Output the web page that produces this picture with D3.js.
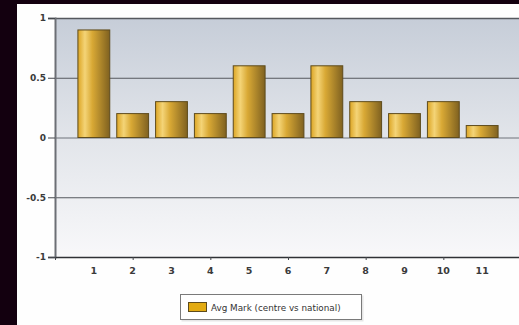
<!DOCTYPE html>
<html lang="en">
<head>
	<meta charset="UTF-8">
	<title>Avg Mark</title>
	<style type="text/css">
		html, body { margin: 0; padding: 0; background: #13000f; }
		svg { display: block; }
		text { font-family: "DejaVu Sans", Verdana, sans-serif; }
	</style>
</head>
<body>
	<script type="text/javascript" src="https://cdn.jsdelivr.net/npm/d3@7/dist/d3.min.js"></script>
	<script type="text/javascript">
		var categories = [1, 2, 3, 4, 5, 6, 7, 8, 9, 10, 11];
		var values = [0.9, 0.2, 0.3, 0.2, 0.6, 0.2, 0.6, 0.3, 0.2, 0.3, 0.1];
		var yTicks = [-1, -0.5, 0, 0.5, 1];
		var yTickLabels = ['-1', '-0.5', '0', '0.5', '1'];
		var seriesName = 'Avg Mark (centre vs national)';

		var w = 519;
		var h = 325;
		var plot = {left: 55, top: 18, right: 521, bottom: 257};

		var svg = d3.select('body')
					.append('svg')
					.attr('width', w)
					.attr('height', h);

		var defs = svg.append('defs');

		var bg = defs.append('linearGradient')
					.attr('id', 'plotBg')
					.attr('x1', 0).attr('y1', 0)
					.attr('x2', 0).attr('y2', 1);
		bg.append('stop').attr('offset', '0%').attr('stop-color', '#c6cdd8');
		bg.append('stop').attr('offset', '50%').attr('stop-color', '#e2e5ea');
		bg.append('stop').attr('offset', '100%').attr('stop-color', '#f8f8fa');

		var barGrad = defs.append('linearGradient')
					.attr('id', 'barFill')
					.attr('x1', 0).attr('y1', 0)
					.attr('x2', 1).attr('y2', 0);
		barGrad.append('stop').attr('offset', '0%').attr('stop-color', '#dca524');
		barGrad.append('stop').attr('offset', '22%').attr('stop-color', '#f4d477');
		barGrad.append('stop').attr('offset', '45%').attr('stop-color', '#d9a935');
		barGrad.append('stop').attr('offset', '100%').attr('stop-color', '#7f6120');

		// white panel behind the chart
		svg.append('rect')
			.attr('x', 17)
			.attr('y', 4)
			.attr('width', w - 17)
			.attr('height', h - 4)
			.attr('fill', '#fefefe');

		var x = d3.scaleLinear()
				  .domain([0, 12])
				  .range([plot.left, plot.right]);

		var y = d3.scaleLinear()
				  .domain([-1, 1])
				  .range([plot.bottom, plot.top]);

		var step = x(1) - x(0);
		var barWidth = step * 0.82;

		svg.append('rect')
			.attr('x', plot.left)
			.attr('y', plot.top)
			.attr('width', plot.right - plot.left)
			.attr('height', plot.bottom - plot.top)
			.attr('fill', 'url(#plotBg)');

		// horizontal grid lines
		svg.append('g')
			.selectAll('line')
			.data(yTicks)
			.enter()
			.append('line')
			.attr('x1', plot.left)
			.attr('x2', plot.right)
			.attr('y1', function (d) { return y(d) + 0.5; })
			.attr('y2', function (d) { return y(d) + 0.5; })
			.attr('stroke', function (d) { return d === 0 ? '#6f737a' : '#55585e'; })
			.attr('stroke-width', function (d) { return d === 1 ? 1.5 : 1; });

		// bars
		svg.append('g')
			.selectAll('rect')
			.data(values)
			.enter()
			.append('rect')
			.attr('x', function (d, i) { return x(categories[i]) - barWidth / 2; })
			.attr('y', function (d) { return y(Math.max(0, d)); })
			.attr('width', barWidth)
			.attr('height', function (d) { return Math.abs(y(d) - y(0)); })
			.attr('fill', 'url(#barFill)')
			.attr('stroke', '#5e4b1c')
			.attr('stroke-width', 1);

		// y axis
		var yAxis = d3.axisLeft(y)
					  .tickValues(yTicks)
					  .tickFormat(function (d, i) { return yTickLabels[i]; })
					  .tickSize(7)
					  .tickPadding(2);
		var gy = svg.append('g')
					.attr('transform', 'translate(' + plot.left + ',0)')
					.call(yAxis);
		gy.select('.domain').attr('stroke', '#6c6f75').attr('stroke-width', 2);
		gy.selectAll('.tick line').attr('stroke', '#44474c');
		gy.selectAll('.tick text')
			.attr('font-size', '9px')
			.attr('font-weight', 'bold')
			.attr('fill', '#3a3a3a');

		// x axis: small ticks on even values, labels on every category
		var xAxis = d3.axisBottom(x)
					  .tickValues([0, 2, 4, 6, 8, 10])
					  .tickFormat('')
					  .tickSize(3)
					  .tickSizeOuter(0);
		var gx = svg.append('g')
					.attr('transform', 'translate(0,' + plot.bottom + ')')
					.call(xAxis);
		gx.select('.domain').attr('stroke', '#2f3135').attr('stroke-width', 1.5);
		gx.selectAll('.tick line').attr('stroke', '#44474c');

		svg.append('g')
			.selectAll('text')
			.data(categories)
			.enter()
			.append('text')
			.attr('x', function (d) { return x(d); })
			.attr('y', plot.bottom + 17)
			.attr('text-anchor', 'middle')
			.attr('font-size', '9.5px')
			.attr('font-weight', 'bold')
			.attr('fill', '#3a3a3a')
			.text(function (d) { return d; });

		// legend
		var legend = svg.append('g').attr('transform', 'translate(180,294)');
		legend.append('rect')
			.attr('x', 1.5).attr('y', 1.5)
			.attr('width', 182).attr('height', 26)
			.attr('fill', '#e6e6e6');
		legend.append('rect')
			.attr('x', 0.5).attr('y', 0.5)
			.attr('width', 181).attr('height', 25)
			.attr('fill', '#ffffff')
			.attr('stroke', '#7a7a7a');
		legend.append('rect')
			.attr('x', 8.5).attr('y', 8.5)
			.attr('width', 18).attr('height', 9)
			.attr('fill', '#e3ab12')
			.attr('stroke', '#5e4b1c');
		legend.append('text')
			.attr('x', 31)
			.attr('y', 16.5)
			.attr('font-size', '8.8px')
			.attr('fill', '#333')
			.text(seriesName);
	</script>
</body>
</html>
